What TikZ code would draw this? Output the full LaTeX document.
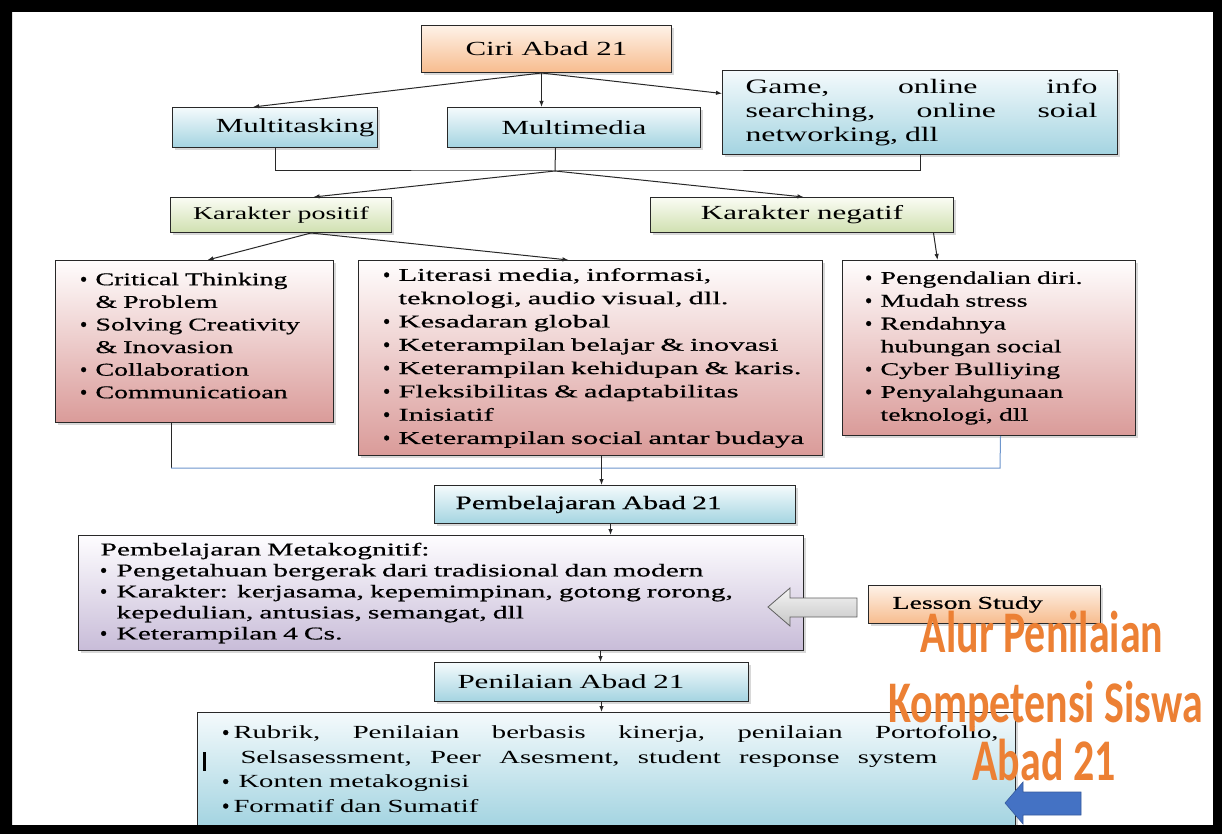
\documentclass[tikz,border=0pt]{standalone}
\usepackage{fontspec}
\setmainfont{Liberation Serif}
\newfontfamily\sr[FakeStretch=1.55]{Liberation Serif}
\newfontfamily\srl[FakeStretch=1.55,FakeBold=0.6]{Liberation Serif}
\newfontfamily\srw[FakeStretch=1.70,FakeBold=0.6]{Liberation Serif}
\newfontfamily\srm[FakeStretch=1.64,FakeBold=0.6]{Liberation Serif}
\newfontfamily\plainserif[FakeBold=1.5]{Liberation Serif}
\newfontfamily\orf[FakeStretch=0.71]{Carlito}
\usetikzlibrary{shadows,arrows.meta}
\definecolor{bluetop}{RGB}{244,250,252}
\definecolor{bluebot}{RGB}{164,212,225}
\definecolor{greentop}{RGB}{250,252,244}
\definecolor{greenbot}{RGB}{208,224,176}
\definecolor{orgtop}{RGB}{254,242,232}
\definecolor{orgbot}{RGB}{247,188,142}
\definecolor{pinktop}{RGB}{255,253,253}
\definecolor{pinkbot}{RGB}{218,155,153}
\definecolor{purtop}{RGB}{254,253,255}
\definecolor{purbot}{RGB}{200,188,216}
\definecolor{linkblue}{RGB}{110,150,205}
\definecolor{arrblue}{RGB}{68,114,196}
\definecolor{ortext}{RGB}{236,128,52}
\definecolor{edge}{RGB}{40,40,40}
\newcommand\lbul[1][15pt]{\makebox[#1][l]{\plainserif\bfseries\textbullet}}
\newcommand\lcont[1][15pt]{\hspace*{#1}}
\newcommand\li[1]{\mbox{\lbul #1}}
\newcommand\lc[1]{\mbox{\lcont #1}}
\begin{document}
\begin{tikzpicture}[x=1pt,y=-1pt,
  box/.style={draw=edge, line width=1pt, anchor=north west, inner sep=0pt,
    drop shadow={shadow xshift=2.5pt,shadow yshift=-2.5pt,opacity=0.3}},
  bluebox/.style={box, top color=bluetop, bottom color=bluebot},
  greenbox/.style={box, top color=greentop, bottom color=greenbot},
  orgbox/.style={box, top color=orgtop, bottom color=orgbot},
  pinkbox/.style={box, top color=pinktop, bottom color=pinkbot},
  purbox/.style={box, top color=purtop, bottom color=purbot},
  ttl/.style={font=\sr\fontsize{20}{24}\selectfont},
  lst/.style={align=left},
  link/.style={draw=edge, line width=1pt},
  arr/.style={link, -{Latex[length=6pt,width=4.5pt]}},
  ortx/.style={font=\orf\bfseries\fontsize{59}{64}\selectfont, text=ortext, anchor=base, inner sep=0pt}
]
\useasboundingbox (0,0) rectangle (1222,834);
\fill[white] (0,0) rectangle (1222,834);

% top level
\node[orgbox, ttl, minimum width=250pt, minimum height=47pt] (ciri) at (421,25) {Ciri Abad 21};
\node[bluebox, ttl, minimum width=205pt, minimum height=40pt] (mtask) at (172,107) {\hspace*{40pt}Multitasking};
\node[bluebox, ttl, minimum width=253pt, minimum height=40pt] (mmedia) at (447,107) {Multimedia};
\node[bluebox, font=\sr\fontsize{20.5}{24}\selectfont, align=left, minimum width=395pt, minimum height=84pt,
      inner xsep=23pt, text width=349pt] (game) at (722,70)
  {\makebox[352pt][l]{Game,\hfill online\hfill info}\\\makebox[352pt][l]{searching,\hfill online\hfill soial}\\networking, dll};

\node[greenbox, font=\sr\fontsize{18}{22}\selectfont, minimum width=221pt, minimum height=35pt] (kpos) at (170,197) {Karakter positif};
\node[greenbox, ttl, minimum width=303pt, minimum height=35pt] (kneg) at (650,197) {Karakter negatif};

% list boxes
\node[pinkbox, lst, font=\srl\fontsize{18}{22.6}\selectfont, minimum width=278pt, minimum height=162pt, inner xsep=25pt, text width=228pt] (b1) at (55,260)
  {\li{Critical Thinking}\\\lc{\& Problem}\\\li{Solving Creativity}\\\lc{\& Inovasion}\\\li{Collaboration}\\\li{Communicatioan}\rule[-12pt]{0pt}{12pt}};
\node[pinkbox, lst, font=\srw\fontsize{18}{23.3}\selectfont, minimum width=464pt, minimum height=195pt, inner xsep=25pt, text width=414pt] (b2) at (358,260)
  {\li{Literasi media, informasi,}\\\lc{teknologi, audio visual, dll.}\\\li{Kesadaran global}\\\li{Keterampilan belajar \& inovasi}\\\li{Keterampilan kehidupan \& karis.}\\\li{Fleksibilitas \& adaptabilitas}\\\li{Inisiatif}\\\li{Keterampilan social antar budaya}};
\node[pinkbox, lst, font=\srl\fontsize{18}{22.8}\selectfont, minimum width=293pt, minimum height=175pt, inner xsep=23pt, text width=247pt] (b3) at (842,260)
  {\li{Pengendalian diri.}\\\li{Mudah stress}\\\li{Rendahnya}\\\lc{hubungan social}\\\li{Cyber Bulliying}\\\li{Penyalahgunaan}\\\lc{teknologi, dll}};

% lower part
\node[bluebox, font=\srl\fontsize{19}{23}\selectfont, align=left, minimum width=361pt, minimum height=38pt,
      inner xsep=21pt, text width=319pt] (pab) at (434,485) {Pembelajaran Abad 21};
\node[purbox, font=\srm\fontsize{18}{21}\selectfont, align=left, minimum width=725pt, minimum height=115pt,
      inner xsep=22pt, text width=681pt] (meta) at (78,535)
  {Pembelajaran Metakognitif:\\\lbul[16pt]Pengetahuan bergerak dari tradisional dan modern\\\mbox{\lbul[16pt]Karakter: kerjasama, kepemimpinan, gotong rorong,}\\\lcont[16pt]kepedulian, antusias, semangat, dll\\\lbul[16pt]Keterampilan 4 Cs.};
\node[orgbox, font=\srl\fontsize{18}{22}\selectfont, align=left, minimum width=232pt, minimum height=38pt,
      inner xsep=24pt, text width=184pt] (lesson) at (868,585) {Lesson Study};
\node[bluebox, ttl, align=left, minimum width=314pt, minimum height=39pt,
      inner xsep=23pt, text width=268pt] (pen) at (434,662) {Penilaian Abad 21};
\node[bluebox, font=\sr\fontsize{18.5}{24.5}\selectfont, align=left, minimum width=818pt, minimum height=113pt,
      inner xsep=25pt, text width=768pt] (bot) at (197,712)
  {\makebox[776pt][l]{\lbul[11pt]Rubrik,\hfill Penilaian\hfill berbasis\hfill kinerja,\hfill penilaian\hfill Portofolio,}\\
   \lcont[18pt]\makebox[697pt][l]{Selsasessment,\hfill Peer\hfill Asesment,\hfill student\hfill response\hfill system}\\
   \lbul[16pt]Konten metakognisi\\
   \lbul[11pt]Formatif dan Sumatif};
\fill[black] (203,752) rectangle (206,771);

% connectors, top
\draw[arr] ([xshift=-5pt]ciri.south) -- ([xshift=-22pt]mtask.north);
\draw[arr] ([xshift=-5pt]ciri.south) -- ([xshift=-5pt]ciri.south |- mmedia.north);
\draw[arr] ([xshift=-5pt]ciri.south) -- ([yshift=19pt]game.west);
\coordinate (m) at (555,171);
\draw[link] (mtask.south) |- (m) -| (game.south);
\draw[link] ([xshift=-18.5pt]mmedia.south) -- (m);
\draw[arr] (m) -- ([xshift=32.5pt]kpos.north);
\draw[arr] (m) -- ([xshift=1.5pt]kneg.north);
\draw[arr] ([xshift=30pt]kpos.south) -- ([xshift=13pt]b1.north);
\draw[arr] ([xshift=30pt]kpos.south) -- ([xshift=-22pt]b2.north);
\draw[arr] ([xshift=131.5pt]kneg.south) -- ([xshift=-51.5pt]b3.north);

% connectors, middle
\coordinate (h1) at (171,468);
\coordinate (h2) at (1000,468);
\draw[link] ([xshift=-23pt]b1.south) -- ([xshift=-23pt]b1.south |- h1);
\draw[draw=linkblue, line width=1pt] (h1) -- (h2) -- ([xshift=11.5pt]b3.south);
\draw[arr] ([xshift=11pt]b2.south) -- ([xshift=11pt]b2.south |- pab.north);
\draw[arr] ([xshift=-4.5pt]pab.south) -- ([xshift=-4.5pt]pab.south |- meta.north);
\draw[arr] ([xshift=9pt]pen.north |- meta.south) -- ([xshift=9pt]pen.north);
\draw[arr] ([xshift=10pt]pen.south) -- ([xshift=10pt]pen.south |- bot.north);

% block arrows
\path[draw=gray!75!black, line width=0.8pt, top color=gray!8, bottom color=gray!45]
  (768,607) -- (790,588) -- (790,598) -- (857,598) -- (857,617) -- (790,617) -- (790,626) -- cycle;
\path[fill=arrblue, draw=arrblue!80!black, line width=0.6pt]
  (1005,803) -- (1023,782) -- (1023,792) -- (1081,792) -- (1081,815) -- (1023,815) -- (1023,824) -- cycle;

% title text
\node[ortx] (t1) at (1042,652) {Alur Penilaian};
\node[ortx] (t2) at (1045.5,722) {Kompetensi Siswa};
\node[ortx] (t3) at (1044,780) {Abad 21};

% frame
\fill[black, even odd rule] (0,0) rectangle (1222,834) (12,12) rectangle (1213,825);
\end{tikzpicture}
\end{document}
